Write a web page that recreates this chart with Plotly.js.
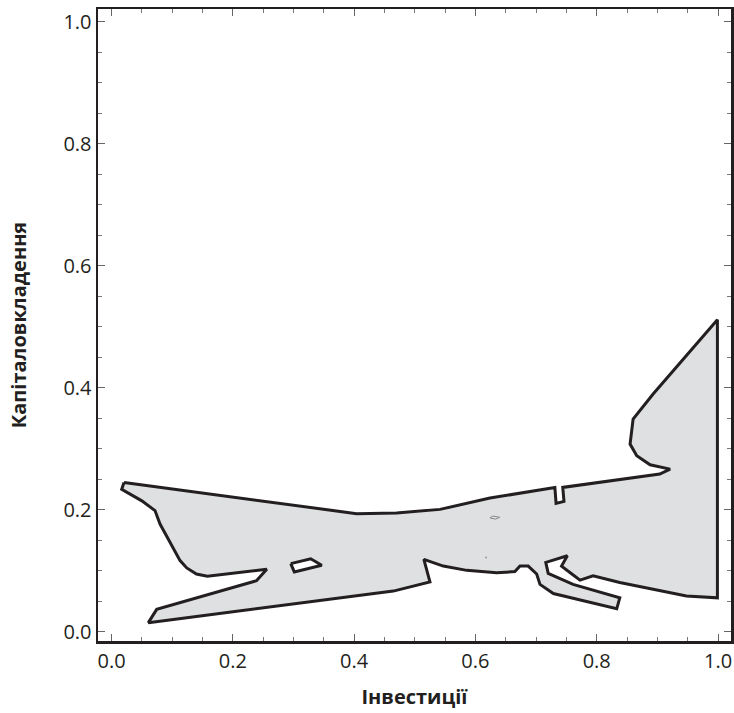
<!DOCTYPE html>
<html>
<head>
<meta charset="utf-8">
<script src="https://cdn.plot.ly/plotly-3.0.1.min.js"></script>
<style>html,body{margin:0;padding:0;background:#fff;}#chart{width:734px;height:713px;}</style>
</head>
<body>
<div id="chart"></div>
<script>
// Outer boundary of the region (Інвестиції, Капіталовкладення)
const outerX = [0.0206, 0.404, 0.470, 0.5416, 0.624, 0.731, 0.733, 0.746, 0.744, 0.904, 0.921, 0.888, 0.866, 0.855, 0.860, 0.893, 0.999,
  0.999, 0.948, 0.838, 0.794, 0.7725, 0.759, 0.742, 0.7516, 0.716, 0.720, 0.761, 0.838, 0.833, 0.7285, 0.7065, 0.701, 0.687, 0.6735,
  0.665, 0.635, 0.5857, 0.547, 0.515, 0.525, 0.4646, 0.0607, 0.0745, 0.239, 0.256, 0.158, 0.140, 0.124, 0.113, 0.080, 0.0717, 0.050, 0.0168, 0.0206];
const outerY = [0.245, 0.194, 0.195, 0.201, 0.2195, 0.237, 0.2107, 0.214, 0.237, 0.259, 0.267, 0.274, 0.289, 0.308, 0.349, 0.390, 0.512,
  0.056, 0.059, 0.081, 0.092, 0.085, 0.095, 0.108, 0.125, 0.114, 0.096, 0.078, 0.056, 0.038, 0.063, 0.078, 0.095, 0.108, 0.108,
  0.099, 0.097, 0.101, 0.108, 0.119, 0.082, 0.067, 0.0153, 0.037, 0.084, 0.103, 0.0915, 0.095, 0.105, 0.117, 0.177, 0.199, 0.215, 0.234, 0.245];
// Hole inside the region
const holeX = [0.2955, 0.3284, 0.3466, 0.3014, 0.2955];
const holeY = [0.112, 0.120, 0.1095, 0.0985, 0.112];
// Small grey contour islands
const islandX = [0.624, 0.629, 0.640, 0.633, 0.624];
const islandY = [0.187, 0.190, 0.188, 0.185, 0.187];
const dotX = [0.6175];
const dotY = [0.122];

const xTitle = 'Інвестиції';
const yTitle = 'Капіталовкладення';

const ink = '#231f20';
const traces = [
  {x: outerX, y: outerY, type: 'scatter', mode: 'lines', fill: 'toself', fillcolor: '#dfe0e2',
   line: {color: ink, width: 3}, hoverinfo: 'skip'},
  {x: holeX, y: holeY, type: 'scatter', mode: 'lines', fill: 'toself', fillcolor: '#ffffff',
   line: {color: ink, width: 3}, hoverinfo: 'skip'},
  {x: islandX, y: islandY, type: 'scatter', mode: 'lines',
   line: {color: '#8a8a8a', width: 1}, hoverinfo: 'skip'},
  {x: dotX, y: dotY, type: 'scatter', mode: 'markers',
   marker: {color: '#9a9a9a', size: 2}, hoverinfo: 'skip'}
];

const axisCommon = {
  showgrid: false, zeroline: false, showline: true, linecolor: ink, linewidth: 2.5,
  mirror: 'allticks', ticks: 'inside', ticklen: 7, tickwidth: 1, tickcolor: '#666',
  dtick: 0.2, tick0: 0, tickformat: '.1f',
  tickfont: {family: 'Open Sans, sans-serif', size: 20, color: ink},
  minor: {dtick: 0.05, ticks: 'inside', ticklen: 4, tickwidth: 1, tickcolor: '#777'}
};

const layout = {
  width: 734, height: 713,
  margin: {l: 98, r: 3, t: 9, b: 72},
  paper_bgcolor: '#fff', plot_bgcolor: '#fff',
  showlegend: false,
  xaxis: Object.assign({}, axisCommon, {
    range: [-0.0223, 1.0214],
    title: {text: xTitle, font: {family: 'Open Sans, sans-serif', size: 20, color: ink, weight: 'bold'}, standoff: 18}
  }),
  yaxis: Object.assign({}, axisCommon, {
    range: [-0.0148, 1.0213],
    title: {text: yTitle, font: {family: 'Open Sans, sans-serif', size: 20, color: ink, weight: 'bold'}, standoff: 32}
  })
};

Plotly.newPlot('chart', traces, layout, {displayModeBar: false, staticPlot: true});
</script>
</body>
</html>
